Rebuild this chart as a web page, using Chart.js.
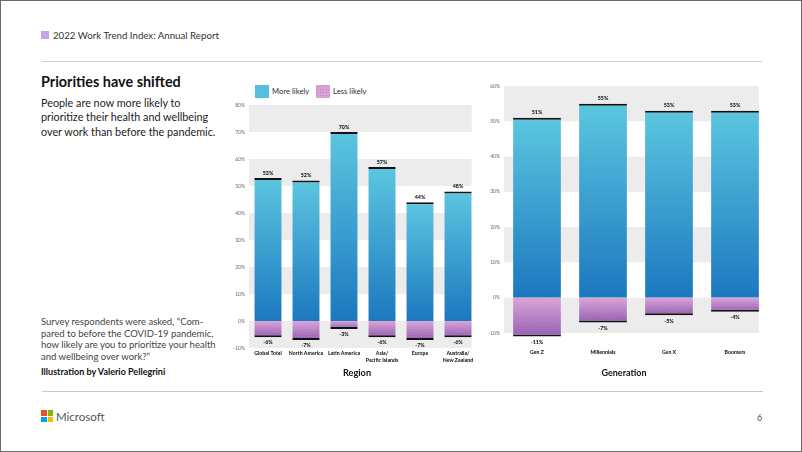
<!DOCTYPE html>
<html>
<head>
<meta charset="utf-8">
<script src="https://cdn.jsdelivr.net/npm/chart.js@4/dist/chart.umd.min.js"></script>
<style>
  body { margin: 0; background: #fff; font-family: Lato, sans-serif; }
  #page { position: relative; width: 802px; height: 452px; overflow: hidden; background: #fff; }
  .frame { position: absolute; left: 0; top: 0; width: 802px; height: 452px; box-sizing: border-box; border: 1px solid #6a6a6a; }
  .t { position: absolute; white-space: nowrap; }
  canvas { position: absolute; }
  .rule { position: absolute; height: 1px; background: #cfcfcf; }
  .sw { position: absolute; width: 14px; height: 13px; }
</style>
</head>
<body>
<div id="page">
  <div class="frame"></div>

  <!-- kop -->
  <div class="t" style="left:41px;top:31px;width:8px;height:8px;background:#c9a0ee"></div>
  <div class="t" style="left:53px;top:27px;font-size:9.7px;line-height:16px;color:#333">2022 Work Trend Index: Annual Report</div>
  <div class="rule" style="left:42px;top:61px;width:720px"></div>

  <!-- tekst links -->
  <div class="t" style="left:41px;top:72px;font-size:14.4px;line-height:20px;font-weight:700;color:#111">Priorities have shifted</div>
  <div class="t" style="left:41px;top:96px;font-size:10.8px;line-height:14.4px;color:#222">People are now more likely to<br>prioritize their health and wellbeing<br>over work than before the pandemic.</div>
  <div class="t" style="left:41px;top:316px;font-size:9.5px;line-height:11.7px;color:#444">Survey respondents were asked, “Com-<br>pared to before the COVID-19 pandemic,<br>how likely are you to prioritize your health<br>and wellbeing over work?”</div>
  <div class="t" style="left:41px;top:366px;font-size:9px;line-height:12px;font-weight:700;color:#111">Illustration by Valerio Pellegrini</div>

  <!-- legenda -->
  <div class="sw" style="left:255px;top:85px;background:#56bfdc"></div>
  <div class="t" style="left:272px;top:84px;font-size:7.7px;line-height:14px;color:#333">More likely</div>
  <div class="sw" id="lessSw" style="left:316px;top:85px;background:#d9a3d6"></div>
  <div class="t" style="left:333px;top:84px;font-size:7.7px;line-height:14px;color:#333">Less likely</div>

  <canvas id="regionChart" width="254" height="270" style="left:228px;top:98px"></canvas>
  <canvas id="genChart" width="289" height="282" style="left:483px;top:79px"></canvas>

  <div class="t" style="left:357px;top:365px;transform:translateX(-50%);font-size:9.2px;line-height:16px;font-weight:700;color:#111">Region</div>
  <div class="t" style="left:624px;top:365px;transform:translateX(-50%);font-size:9px;line-height:16px;font-weight:700;color:#111">Generation</div>

  <!-- voet -->
  <div class="rule" style="left:42px;top:391px;width:721px;background:#c8c8c8"></div>
  <div class="t" style="left:41px;top:410px;width:5.5px;height:5.5px;background:#f25022"></div>
  <div class="t" style="left:47.5px;top:410px;width:5.5px;height:5.5px;background:#7fba00"></div>
  <div class="t" style="left:41px;top:416.5px;width:5.5px;height:5.5px;background:#00a4ef"></div>
  <div class="t" style="left:47.5px;top:416.5px;width:5.5px;height:5.5px;background:#ffb900"></div>
  <div class="t" style="left:56px;top:408px;font-size:11.5px;line-height:17px;color:#555">Microsoft</div>
  <div class="t" style="left:757px;top:411px;font-size:9px;line-height:14px;color:#555">6</div>
</div>

<script>
// Data per regio
const regionLabels = ["Global Total", "North America", "Latin America", ["Asia/", "Pacific Islands"], "Europe", ["Australia/", "New Zealand"]];
const regionMore = [53, 52, 70, 57, 44, 48];
const regionLess = [-6, -7, -3, -6, -7, -6];
const regionTicks = [-10, 0, 10, 20, 30, 40, 50, 60, 70, 80];

// Data per generatie
const genLabels = ["Gen Z", "Millennials", "Gen X", "Boomers"];
const genMore = [51, 55, 53, 53];
const genLess = [-11, -7, -5, -4];
const genTicks = [-10, 0, 10, 20, 30, 40, 50, 60];

// Verloop per staaf, van boven naar onder
function barGradient(ctx, topColor, bottomColor) {
  const chart = ctx.chart;
  if (!chart.chartArea || ctx.type !== "data") return topColor;
  const y = chart.scales.y;
  const y0 = y.getPixelForValue(0);
  const y1 = y.getPixelForValue(ctx.raw);
  const g = chart.ctx.createLinearGradient(0, Math.min(y0, y1), 0, Math.max(y0, y1) + 0.01);
  g.addColorStop(0, topColor);
  g.addColorStop(1, bottomColor);
  return g;
}

// Grijze banden achter de staven
const bandsPlugin = {
  id: "bands",
  beforeDatasetsDraw(chart) {
    const { ctx, chartArea, scales } = chart;
    const ticks = scales.y.ticks;
    const meta = chart.getDatasetMeta(0);
    const last = meta.data[meta.data.length - 1];
    const right = last.x + last.width / 2;
    ctx.save();
    ctx.fillStyle = "#ececec";
    for (let i = 0; i < ticks.length - 1; i += 2) {
      const top = scales.y.getPixelForValue(ticks[i + 1].value);
      const bottom = scales.y.getPixelForValue(ticks[i].value);
      ctx.fillRect(chartArea.left, top, right - chartArea.left, bottom - top);
    }
    ctx.restore();
  }
};

// Stippen op de "less likely" staven en percentages bij elke staaf
const barExtras = {
  id: "barExtras",
  afterDatasetsDraw(chart) {
    const ctx = chart.ctx;
    ctx.save();
    chart.getDatasetMeta(1).data.forEach(bar => {
      const left = bar.x - bar.width / 2;
      const top = Math.min(bar.y, bar.base);
      const h = Math.abs(bar.y - bar.base);
      ctx.save();
      ctx.beginPath();
      ctx.rect(left, top, bar.width, h - 2);
      ctx.clip();
      ctx.fillStyle = "rgba(255,255,255,0.2)";
      for (let yy = top, row = 0; yy < top + h; yy += 2.5, row++) {
        for (let xx = left + (row % 2) * 1.5; xx < left + bar.width; xx += 3) {
          ctx.fillRect(xx, yy, 1, 1);
        }
      }
      ctx.restore();
    });

    ctx.fillStyle = "#111";
    ctx.font = "900 5.3px Lato, sans-serif";
    ctx.textAlign = "center";
    ctx.textBaseline = "middle";
    chart.data.datasets.forEach((ds, di) => {
      chart.getDatasetMeta(di).data.forEach((bar, i) => {
        const v = ds.data[i];
        const ty = v >= 0 ? bar.y - 5 : bar.y + 5.5;
        ctx.fillText(v + "%", bar.x, ty);
      });
    });
    ctx.restore();
  }
};

function makeChart(id, labels, more, less, ticks, opts) {
  return new Chart(document.getElementById(id), {
    type: "bar",
    data: {
      labels: labels,
      datasets: [{
        label: "More likely",
        data: more,
        backgroundColor: c => barGradient(c, "#5cc6e0", "#1c78bf"),
        borderColor: "#111",
        borderWidth: { top: 2, right: 0, bottom: 0, left: 0 },
        borderSkipped: "start",
        inflateAmount: 0,
        categoryPercentage: 1,
        barPercentage: opts.barPct,
        clip: false
      }, {
        label: "Less likely",
        data: less,
        backgroundColor: c => barGradient(c, "#d9a2d5", "#935db0"),
        borderColor: "#111",
        borderWidth: { top: 0, right: 0, bottom: 2, left: 0 },
        borderSkipped: "start",
        inflateAmount: 0,
        categoryPercentage: 1,
        barPercentage: opts.barPct,
        clip: false
      }]
    },
    options: {
      responsive: false,
      animation: false,
      layout: { padding: { top: 6, right: opts.padRight, bottom: 0, left: 0 } },
      plugins: { legend: { display: false }, tooltip: { enabled: false } },
      scales: {
        x: {
          stacked: true,
          grid: { display: false, drawTicks: false },
          border: { display: false },
          ticks: {
            padding: opts.xPad,
            color: "#222",
            font: { family: "Lato, sans-serif", size: 5.2, weight: "900", lineHeight: 1.3 },
            maxRotation: 0,
            autoSkip: false
          },
          afterFit: s => { s.height = opts.xHeight; }
        },
        y: {
          stacked: true,
          min: ticks[0],
          max: ticks[ticks.length - 1],
          grid: { display: false, drawTicks: false },
          border: { display: false },
          ticks: {
            stepSize: 10,
            padding: opts.yPad,
            color: "#666",
            font: { family: "Lato, sans-serif", size: 5 },
            callback: v => v + "%"
          },
          afterFit: s => { s.width = 21; }
        }
      }
    },
    plugins: [bandsPlugin, barExtras]
  });
}

makeChart("regionChart", regionLabels, regionMore, regionLess, regionTicks,
  { barPct: 0.72, padRight: 5, xPad: 2, xHeight: 20, yPad: 4 });
makeChart("genChart", genLabels, genMore, genLess, genTicks,
  { barPct: 0.725, padRight: 4, xPad: 16, xHeight: 28, yPad: 4 });

// Legendastaal met stippen, net als de staven
(function () {
  const sw = document.getElementById("lessSw");
  const c = document.createElement("canvas");
  c.width = 3; c.height = 3;
  const x = c.getContext("2d");
  x.fillStyle = "#d9a3d6"; x.fillRect(0, 0, 3, 3);
  x.fillStyle = "#c283c4"; x.fillRect(1, 1, 1, 1);
  sw.style.background = "url(" + c.toDataURL() + ")";
})();
</script>
</body>
</html>
